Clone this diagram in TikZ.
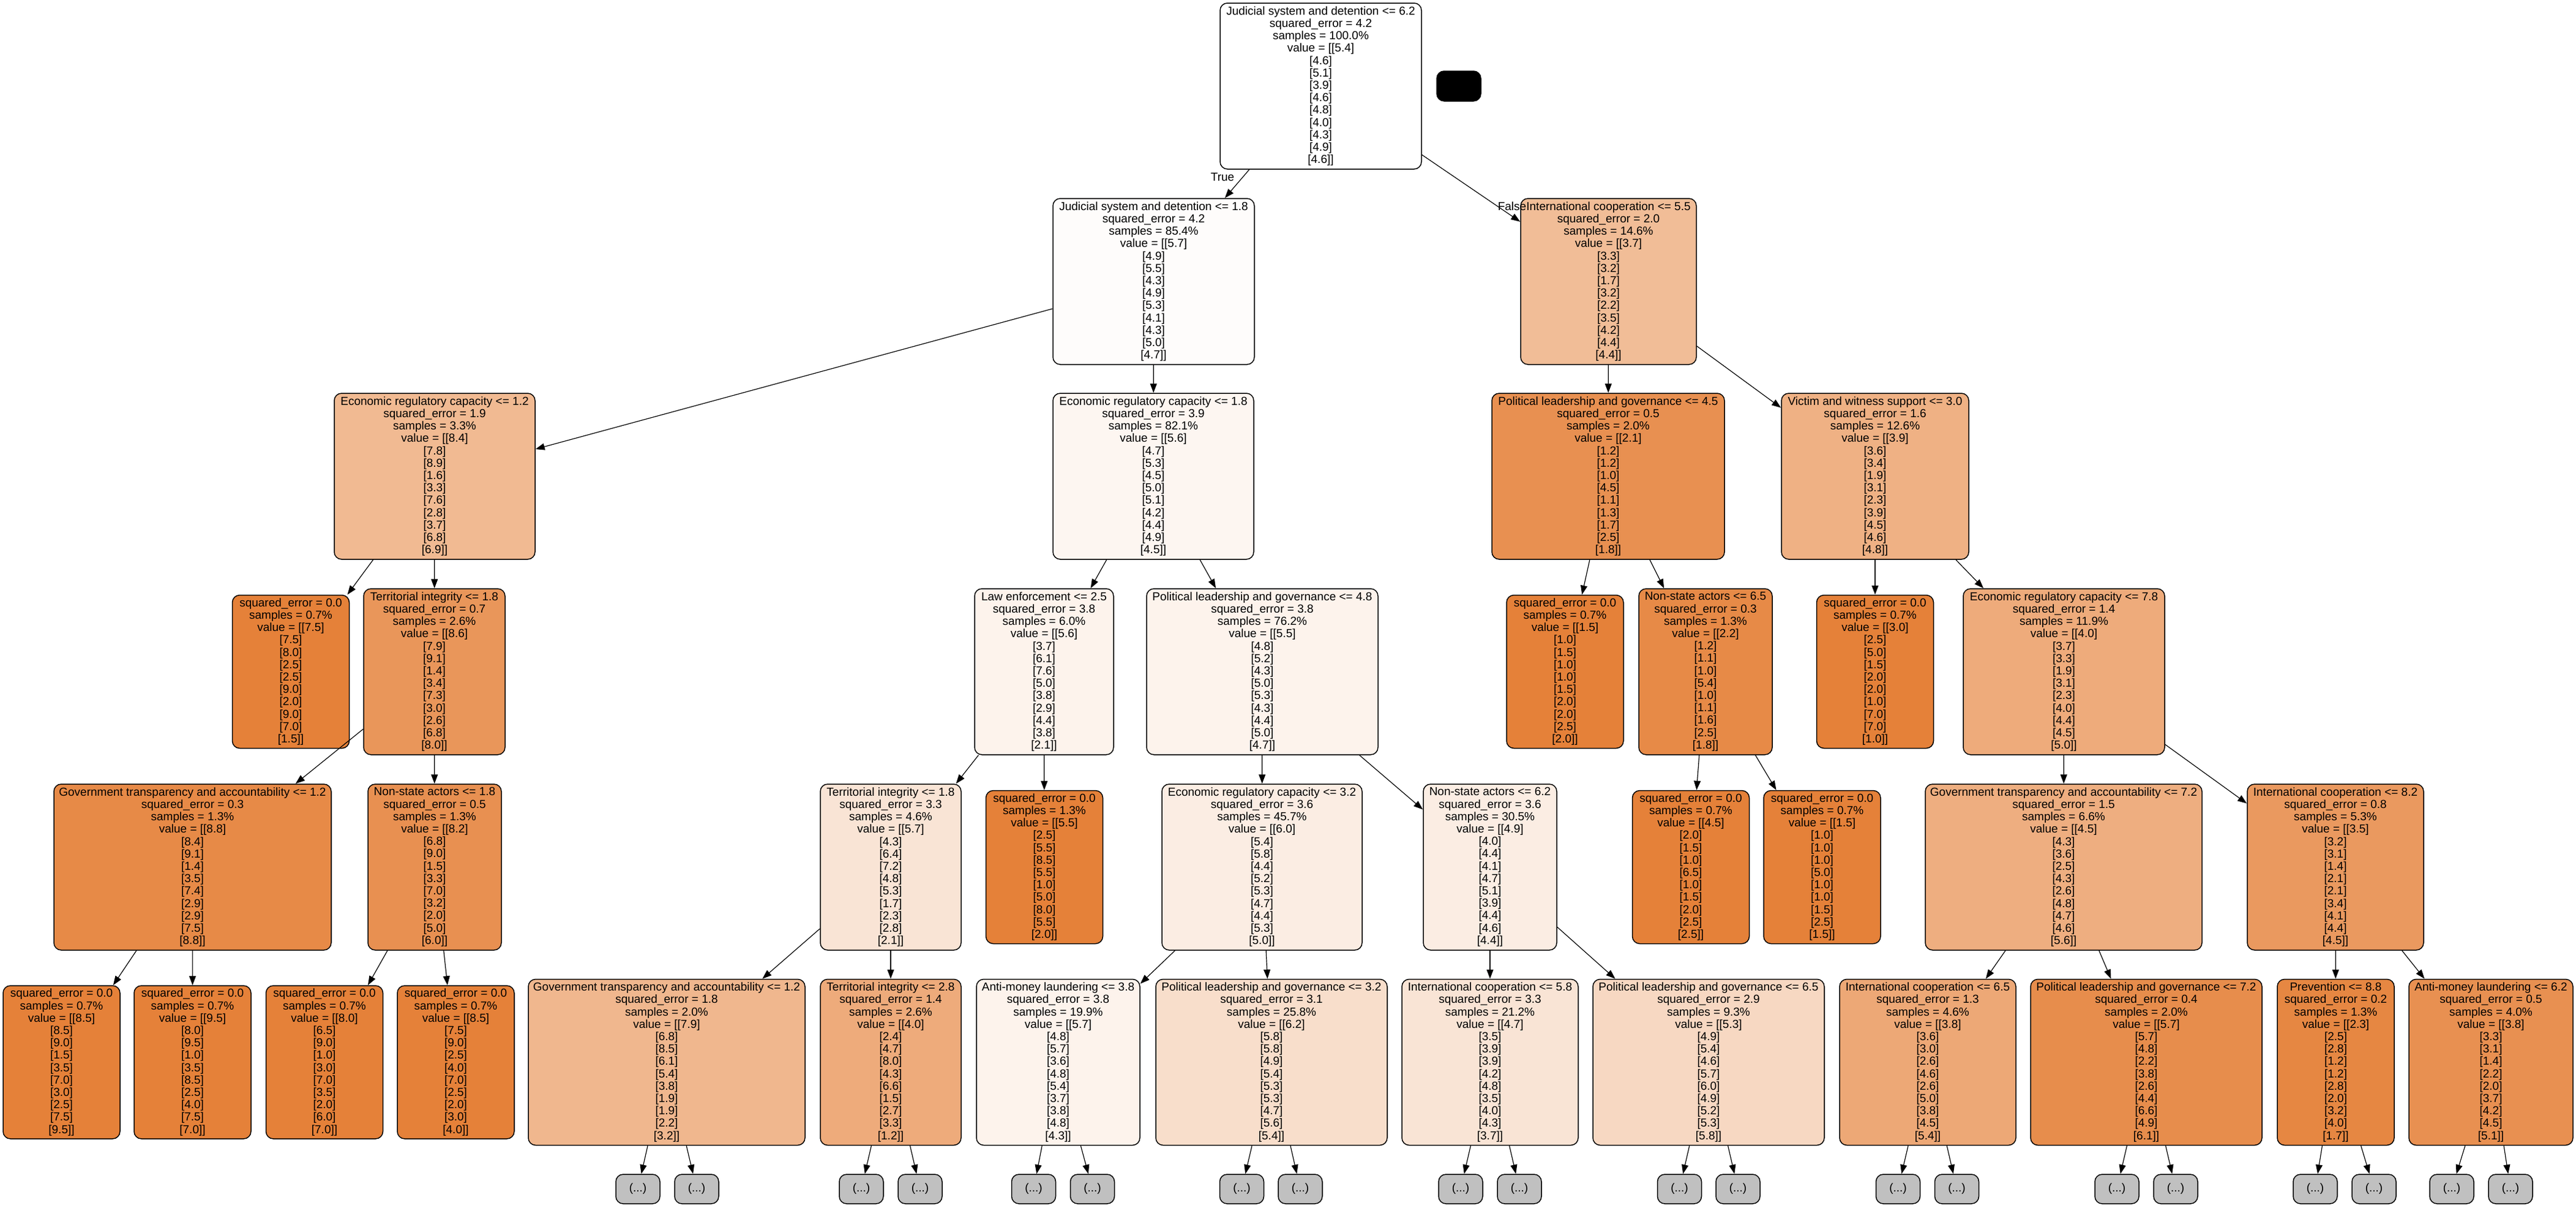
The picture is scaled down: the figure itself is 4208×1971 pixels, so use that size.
\documentclass[tikz,border=0pt]{standalone}
\usepackage{fontspec}
\setmainfont{Liberation Sans}
\usetikzlibrary{arrows.meta}
\definecolor{c00}{HTML}{E58139}
\definecolor{c02}{HTML}{E68742}
\definecolor{c03}{HTML}{E78A47}
\definecolor{c04}{HTML}{E78D4C}
\definecolor{c05}{HTML}{E89051}
\definecolor{c07}{HTML}{E9965A}
\definecolor{c08}{HTML}{EA995F}
\definecolor{c13}{HTML}{EDA876}
\definecolor{c14}{HTML}{EEAB7B}
\definecolor{c15}{HTML}{EEAE80}
\definecolor{c16}{HTML}{EFB184}
\definecolor{c18}{HTML}{F0B78E}
\definecolor{c19}{HTML}{F1BA92}
\definecolor{c20}{HTML}{F1BD97}
\definecolor{c29}{HTML}{F7D8C2}
\definecolor{c31}{HTML}{F8DECB}
\definecolor{c33}{HTML}{F9E4D5}
\definecolor{c36}{HTML}{FBEDE3}
\definecolor{c38}{HTML}{FDF3EC}
\definecolor{c39}{HTML}{FDF6F1}
\definecolor{c42}{HTML}{FEFCFB}
\definecolor{cgray}{HTML}{C0C0C0}
\newcommand\hd[4]{#1\\squared\_error = #2\\samples = #3\%\\value = [[#4]}
\newcommand\lf[3]{squared\_error = #1\\samples = #2\%\\value = [[#3]}
\newcommand\vl[9]{\\{}[#1]\\{}[#2]\\{}[#3]\\{}[#4]\\{}[#5]\\{}[#6]\\{}[#7]\\{}[#8]\\{}[#9]]}
\tikzset{
  tn/.style={draw=black, line width=0.75pt, rounded corners=6pt, align=center, inner sep=0pt,
    font=\fontsize{9.5pt}{10.1pt}\selectfont},
  wd/.style={minimum width=#1*0.5pt},
  sp/.style={tn, minimum height=135.5pt},
  lfn/.style={tn, fill=c00, minimum width=95.5pt, minimum height=125pt},
  el/.style={tn, fill=cgray, minimum width=36pt, minimum height=24pt},
  edge/.style={-{Triangle[length=7.5pt,width=5.5pt]}, line width=0.6pt},
  lbl/.style={inner sep=0pt, font=\fontsize{9.5pt}{10.1pt}\selectfont}
}
\begin{document}
\begin{tikzpicture}[x=0.5pt,y=-0.5pt]
\useasboundingbox (0,0) rectangle (4208,1971);
% level 0
\node[sp, wd=329, fill=white] (n0) at (2157.5,140.5) {\hd{Judicial system and detention <= 6.2}{4.2}{100.0}{5.4}\vl{4.6}{5.1}{3.9}{4.6}{4.8}{4.0}{4.3}{4.9}{4.6}};
\node[tn, fill=black, wd=72, minimum height=24.5pt] (lg) at (2383,140.5) {};
% level 1
\node[sp, wd=329, fill=c42] (n1) at (1884.5,459.5) {\hd{Judicial system and detention <= 1.8}{4.2}{85.4}{5.7}\vl{4.9}{5.5}{4.3}{4.9}{5.3}{4.1}{4.3}{5.0}{4.7}};
\node[sp, wd=287, fill=c20] (n2) at (2627.5,459.5) {\hd{International cooperation <= 5.5}{2.0}{14.6}{3.7}\vl{3.3}{3.2}{1.7}{3.2}{2.2}{3.5}{4.2}{4.4}{4.4}};
% level 2
\node[sp, wd=328, fill=c19] (n3) at (710,777.5) {\hd{Economic regulatory capacity <= 1.2}{1.9}{3.3}{8.4}\vl{7.8}{8.9}{1.6}{3.3}{7.6}{2.8}{3.7}{6.8}{6.9}};
\node[sp, wd=328, fill=c39] (n4) at (1884,777.5) {\hd{Economic regulatory capacity <= 1.8}{3.9}{82.1}{5.6}\vl{4.7}{5.3}{4.5}{5.0}{5.1}{4.2}{4.4}{4.9}{4.5}};
\node[sp, wd=380, fill=c05] (n5) at (2627,777.5) {\hd{Political leadership and governance <= 4.5}{0.5}{2.0}{2.1}\vl{1.2}{1.2}{1.0}{4.5}{1.1}{1.3}{1.7}{2.5}{1.8}};
\node[sp, wd=306, fill=c16] (n6) at (3063,777.5) {\hd{Victim and witness support <= 3.0}{1.6}{12.6}{3.9}\vl{3.6}{3.4}{1.9}{3.1}{2.3}{3.9}{4.5}{4.6}{4.8}};
% level 3
\node[lfn] (n7) at (475,1096.5) {\lf{0.0}{0.7}{7.5}\vl{7.5}{8.0}{2.5}{2.5}{9.0}{2.0}{9.0}{7.0}{1.5}};
\node[sp, wd=231, fill=c07] (n8) at (709.5,1096.5) {\hd{Territorial integrity <= 1.8}{0.7}{2.6}{8.6}\vl{7.9}{9.1}{1.4}{3.4}{7.3}{3.0}{2.6}{6.8}{8.0}};
\node[sp, wd=227, fill=c38] (n9) at (1705.5,1096.5) {\hd{Law enforcement <= 2.5}{3.8}{6.0}{5.6}\vl{3.7}{6.1}{7.6}{5.0}{3.8}{2.9}{4.4}{3.8}{2.1}};
\node[sp, wd=378, fill=c38] (n10) at (2062,1096.5) {\hd{Political leadership and governance <= 4.8}{3.8}{76.2}{5.5}\vl{4.8}{5.2}{4.3}{5.0}{5.3}{4.3}{4.4}{5.0}{4.7}};
\node[lfn] (n11) at (2556.5,1096.5) {\lf{0.0}{0.7}{1.5}\vl{1.0}{1.5}{1.0}{1.0}{1.5}{2.0}{2.0}{2.5}{2.0}};
\node[sp, wd=218, fill=c03] (n12) at (2786,1096.5) {\hd{Non-state actors <= 6.5}{0.3}{1.3}{2.2}\vl{1.2}{1.1}{1.0}{5.4}{1.0}{1.1}{1.6}{2.5}{1.8}};
\node[lfn] (n13) at (3063,1096.5) {\lf{0.0}{0.7}{3.0}\vl{2.5}{5.0}{1.5}{2.0}{2.0}{1.0}{7.0}{7.0}{1.0}};
\node[sp, wd=329, fill=c14] (n14) at (3371.5,1096.5) {\hd{Economic regulatory capacity <= 7.8}{1.4}{11.9}{4.0}\vl{3.7}{3.3}{1.9}{3.1}{2.3}{4.0}{4.4}{4.5}{5.0}};
% level 4
\node[sp, wd=453, fill=c03] (n15) at (314.5,1415.5) {\hd{Government transparency and accountability <= 1.2}{0.3}{1.3}{8.8}\vl{8.4}{9.1}{1.4}{3.5}{7.4}{2.9}{2.9}{7.5}{8.8}};
\node[sp, wd=218, fill=c05] (n16) at (710,1415.5) {\hd{Non-state actors <= 1.8}{0.5}{1.3}{8.2}\vl{6.8}{9.0}{1.5}{3.3}{7.0}{3.2}{2.0}{5.0}{6.0}};
\node[sp, wd=230, fill=c33] (n17) at (1455,1415.5) {\hd{Territorial integrity <= 1.8}{3.3}{4.6}{5.7}\vl{4.3}{6.4}{7.2}{4.8}{5.3}{1.7}{2.3}{2.8}{2.1}};
\node[lfn] (n18) at (1706,1415.5) {\lf{0.0}{1.3}{5.5}\vl{2.5}{5.5}{8.5}{5.5}{1.0}{5.0}{8.0}{5.5}{2.0}};
\node[sp, wd=327, fill=c36] (n19) at (2061.5,1415.5) {\hd{Economic regulatory capacity <= 3.2}{3.6}{45.7}{6.0}\vl{5.4}{5.8}{4.4}{5.2}{5.3}{4.7}{4.4}{5.3}{5.0}};
\node[sp, wd=218, fill=c36] (n20) at (2434,1415.5) {\hd{Non-state actors <= 6.2}{3.6}{30.5}{4.9}\vl{4.0}{4.4}{4.1}{4.7}{5.1}{3.9}{4.4}{4.6}{4.4}};
\node[lfn] (n21) at (2762,1415.5) {\lf{0.0}{0.7}{4.5}\vl{2.0}{1.5}{1.0}{6.5}{1.0}{1.5}{2.0}{2.5}{2.5}};
\node[lfn] (n22) at (2976.5,1415.5) {\lf{0.0}{0.7}{1.5}\vl{1.0}{1.0}{1.0}{5.0}{1.0}{1.0}{1.5}{2.5}{1.5}};
\node[sp, wd=452, fill=c15] (n23) at (3371,1415.5) {\hd{Government transparency and accountability <= 7.2}{1.5}{6.6}{4.5}\vl{4.3}{3.6}{2.5}{4.3}{2.6}{4.8}{4.7}{4.6}{5.6}};
\node[sp, wd=288, fill=c08] (n24) at (3815,1415.5) {\hd{International cooperation <= 8.2}{0.8}{5.3}{3.5}\vl{3.2}{3.1}{1.4}{2.1}{2.1}{3.4}{4.1}{4.4}{4.5}};
% level 5
\node[lfn] (n25) at (100.5,1734) {\lf{0.0}{0.7}{8.5}\vl{8.5}{9.0}{1.5}{3.5}{7.0}{3.0}{2.5}{7.5}{9.5}};
\node[lfn] (n26) at (314.5,1734) {\lf{0.0}{0.7}{9.5}\vl{8.0}{9.5}{1.0}{3.5}{8.5}{2.5}{4.0}{7.5}{7.0}};
\node[lfn] (n27) at (530,1734) {\lf{0.0}{0.7}{8.0}\vl{6.5}{9.0}{1.0}{3.0}{7.0}{3.5}{2.0}{6.0}{7.0}};
\node[lfn] (n28) at (744.5,1734) {\lf{0.0}{0.7}{8.5}\vl{7.5}{9.0}{2.5}{4.0}{7.0}{2.5}{2.0}{3.0}{4.0}};
\node[sp, wd=452, fill=c18] (n29) at (1089,1734) {\hd{Government transparency and accountability <= 1.2}{1.8}{2.0}{7.9}\vl{6.8}{8.5}{6.1}{5.4}{3.8}{1.9}{1.9}{2.2}{3.2}};
\node[sp, wd=230, fill=c14] (n30) at (1455,1734) {\hd{Territorial integrity <= 2.8}{1.4}{2.6}{4.0}\vl{2.4}{4.7}{8.0}{4.3}{6.6}{1.5}{2.7}{3.3}{1.2}};
\node[sp, wd=267, fill=c38] (n31) at (1728.5,1734) {\hd{Anti-money laundering <= 3.8}{3.8}{19.9}{5.7}\vl{4.8}{5.7}{3.6}{4.8}{5.4}{3.7}{3.8}{4.8}{4.3}};
\node[sp, wd=378, fill=c31] (n32) at (2077,1734) {\hd{Political leadership and governance <= 3.2}{3.1}{25.8}{6.2}\vl{5.8}{5.8}{4.9}{5.4}{5.3}{5.3}{4.7}{5.6}{5.4}};
\node[sp, wd=288, fill=c33] (n33) at (2434,1734) {\hd{International cooperation <= 5.8}{3.3}{21.2}{4.7}\vl{3.5}{3.9}{3.9}{4.2}{4.8}{3.5}{4.0}{4.3}{3.7}};
\node[sp, wd=378, fill=c29] (n34) at (2791,1734) {\hd{Political leadership and governance <= 6.5}{2.9}{9.3}{5.3}\vl{4.9}{5.4}{4.6}{5.7}{6.0}{4.9}{5.2}{5.3}{5.8}};
\node[sp, wd=288, fill=c13] (n35) at (3149,1734) {\hd{International cooperation <= 6.5}{1.3}{4.6}{3.8}\vl{3.6}{3.0}{2.6}{4.6}{2.6}{5.0}{3.8}{4.5}{5.4}};
\node[sp, wd=378, fill=c04] (n36) at (3506,1734) {\hd{Political leadership and governance <= 7.2}{0.4}{2.0}{5.7}\vl{5.7}{4.8}{2.2}{3.8}{2.6}{4.4}{6.6}{4.9}{6.1}};
\node[sp, wd=191, fill=c02] (n37) at (3815.5,1734) {\hd{Prevention <= 8.8}{0.2}{1.3}{2.3}\vl{2.5}{2.8}{1.2}{1.2}{2.8}{2.0}{3.2}{4.0}{1.7}};
\node[sp, wd=268, fill=c05] (n38) at (4069,1734) {\hd{Anti-money laundering <= 6.2}{0.5}{4.0}{3.8}\vl{3.3}{3.1}{1.4}{2.2}{2.0}{3.7}{4.2}{4.5}{5.1}};
% truncated subtrees
\foreach \i/\x in {1/1042,2/1138,3/1407,4/1503,5/1688.5,6/1784.5,7/2028.5,8/2124,9/2386,10/2482,
  11/2743.5,12/2839,13/3100.5,14/3196.5,15/3458,16/3554,17/3782,18/3878,19/4005,20/4101}
  \node[el] (e\i) at (\x,1941) {(...)};
% edges
\draw[edge] (n0) -- (n1);
\draw[edge] (n0) -- (n2);
\foreach \p/\c in {n1/n3,n1/n4,n2/n5,n2/n6,n3/n7,n3/n8,n4/n9,n4/n10,n5/n11,n5/n12,n6/n13,n6/n14,
  n8/n15,n8/n16,n9/n17,n9/n18,n10/n19,n10/n20,n12/n21,n12/n22,n14/n23,n14/n24,
  n15/n25,n15/n26,n16/n27,n16/n28,n17/n29,n17/n30,n19/n31,n19/n32,n20/n33,n20/n34,
  n23/n35,n23/n36,n24/n37,n24/n38,
  n29/e1,n29/e2,n30/e3,n30/e4,n31/e5,n31/e6,n32/e7,n32/e8,n33/e9,n33/e10,
  n34/e11,n34/e12,n35/e13,n35/e14,n36/e15,n36/e16,n37/e17,n37/e18,n38/e19,n38/e20}
  \draw[edge] (\p) -- (\c);
% edge labels
\node[lbl] (lt) at (1997,289) {True};
\node[lbl] (lf) at (2470,337) {False};
\end{tikzpicture}
\end{document}
